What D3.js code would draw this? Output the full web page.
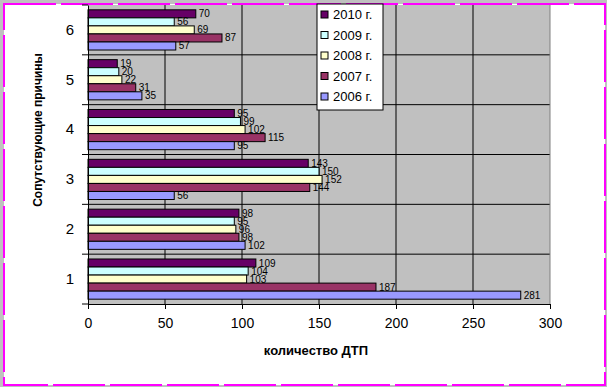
<!DOCTYPE html>
<html>
<head>
<meta charset="utf-8">
<script src="https://cdn.jsdelivr.net/npm/d3@7"></script>
<style>
  body { margin: 0; background: #c0c0c0; }
  text { font-family: "Liberation Sans", Arial, sans-serif; }
</style>
</head>
<body>
<script>
var categories = ['1', '2', '3', '4', '5', '6'];
var years = ['2010 г.', '2009 г.', '2008 г.', '2007 г.', '2006 г.'];
var colors = ['#660066', '#ccffff', '#ffffcc', '#993366', '#9999ff'];
// values per year, in category order 1..6
var v2010 = [109, 98, 143, 95, 19, 70];
var v2009 = [104, 95, 150, 99, 20, 56];
var v2008 = [103, 96, 152, 102, 22, 69];
var v2007 = [187, 98, 144, 115, 31, 87];
var v2006 = [281, 102, 56, 95, 35, 57];
var xTicks = [0, 50, 100, 150, 200, 250, 300];

var series = [v2010, v2009, v2008, v2007, v2006];

const width = 607;
const height = 387;
const margin = { left: 88, right: 57, top: 5, bottom: 83 };
const plotW = width - margin.left - margin.right;
const plotH = height - margin.top - margin.bottom;

const svg = d3.select("body").append("svg")
    .attr("width", width)
    .attr("height", height);

// frame
svg.append("rect")
    .attr("x", 4).attr("y", 4)
    .attr("width", 601).attr("height", 381)
    .attr("fill", "#fff")
    .attr("stroke", "#ff00ff")
    .attr("stroke-width", 2)
    .attr("stroke-dasharray", "52,5");

const x = d3.scaleLinear().domain([0, 300]).range([0, plotW]);

// category 6 on top
const y = d3.scaleBand()
    .domain(categories.slice().reverse())
    .range([0, plotH]);

const inner = d3.scaleBand()
    .domain(years)
    .range([0, y.bandwidth()])
    .paddingOuter(0.6)
    .paddingInner(0);

const g = svg.append("g")
    .attr("transform", `translate(${margin.left}, ${margin.top})`);

g.append("rect")
    .attr("width", plotW).attr("height", plotH)
    .attr("fill", "#c0c0c0");

// grid
g.selectAll(".vgrid").data(xTicks.slice(1, -1)).enter().append("line")
    .attr("x1", d => x(d)).attr("x2", d => x(d))
    .attr("y1", 0).attr("y2", plotH)
    .attr("stroke", "#000");

g.selectAll(".hgrid").data(categories.slice(1)).enter().append("line")
    .attr("x1", 0).attr("x2", plotW)
    .attr("y1", d => y(d) + y.bandwidth()).attr("y2", d => y(d) + y.bandwidth())
    .attr("stroke", "#000");

g.append("line")
    .attr("x1", plotW).attr("x2", plotW)
    .attr("y1", 0).attr("y2", plotH)
    .attr("stroke", "#808080");

// bars
series.forEach(function (vals, si) {
    const grp = g.append("g");
    grp.selectAll("rect").data(vals).enter().append("rect")
        .attr("x", 0)
        .attr("y", (d, i) => y(categories[i]) + inner(years[si]))
        .attr("width", d => x(d))
        .attr("height", inner.bandwidth())
        .attr("fill", colors[si])
        .attr("stroke", "#000")
        .attr("stroke-width", 1);
    grp.selectAll("text").data(vals).enter().append("text")
        .attr("x", d => x(d) + 3)
        .attr("y", (d, i) => y(categories[i]) + inner(years[si]) + inner.bandwidth() / 2 + 3.5)
        .attr("font-size", 10)
        .attr("fill", "#000")
        .text(d => d);
});

// axes
const yAxis = d3.axisLeft(y).tickSize(0).tickPadding(14);
const yg = g.append("g").call(yAxis);
yg.select(".domain").attr("stroke", "#000");
yg.selectAll("text").attr("font-size", 15).attr("fill", "#000").style("font-family", "Liberation Sans, Arial");
yg.selectAll(".catTick").data([0].concat(categories.map(c => y(c) + y.bandwidth()))).enter().append("line")
    .attr("x1", -6).attr("x2", 0)
    .attr("y1", d => d).attr("y2", d => d)
    .attr("stroke", "#000");

const xAxis = d3.axisBottom(x).tickValues(xTicks).tickSize(5).tickPadding(9);
const xg = g.append("g")
    .attr("transform", `translate(0, ${plotH})`)
    .call(xAxis);
xg.select(".domain").attr("stroke", "#000");
xg.selectAll("text").attr("font-size", 14).attr("fill", "#000").style("font-family", "Liberation Sans, Arial");

// titles
svg.append("text")
    .attr("x", margin.left + plotW / 2 - 3)
    .attr("y", 355)
    .attr("text-anchor", "middle")
    .attr("font-size", 13)
    .attr("font-weight", "bold")
    .text("количество ДТП");

svg.append("text")
    .attr("transform", "translate(42, 130) rotate(-90)")
    .attr("text-anchor", "middle")
    .attr("font-size", 12)
    .attr("font-weight", "bold")
    .text("Сопутствующие причины");

// legend
const leg = svg.append("g").attr("transform", "translate(317, 4)");
leg.append("rect")
    .attr("width", 66).attr("height", 106)
    .attr("fill", "#fff").attr("stroke", "#000");
years.forEach(function (yr, i) {
    const row = leg.append("g").attr("transform", `translate(4, ${14 + i * 20.5})`);
    row.append("rect")
        .attr("x", 0).attr("y", -7)
        .attr("width", 7).attr("height", 7)
        .attr("fill", colors[i]).attr("stroke", "#000");
    row.append("text")
        .attr("x", 12).attr("y", 1)
        .attr("font-size", 13)
        .text(yr);
});
</script>
</body>
</html>
